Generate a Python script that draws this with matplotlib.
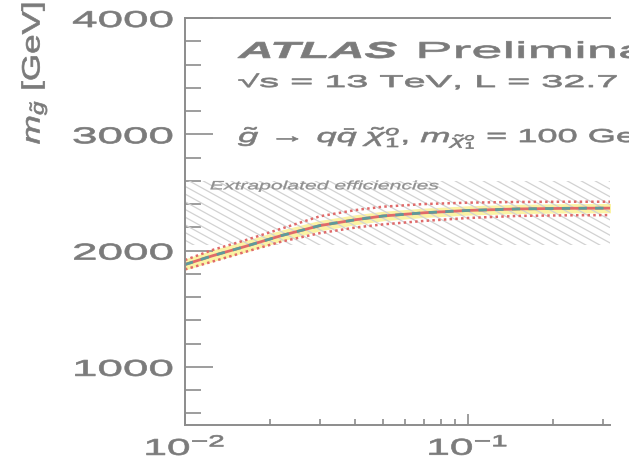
import numpy as np
import matplotlib
matplotlib.use("Agg")
import matplotlib.pyplot as plt
from matplotlib import patheffects, ticker
from matplotlib.collections import LineCollection
from matplotlib.transforms import Affine2D

# gluino limit vs branching ratio, values read per point
br_x = [0.010, 0.0125, 0.0163, 0.022, 0.030, 0.040, 0.050, 0.070, 0.100, 0.150, 0.220, 0.320]
obs_limit = [1880, 1955, 2035, 2130, 2215, 2265, 2297, 2325, 2345, 2358, 2363, 2365]
obs_up = [1918, 2005, 2088, 2190, 2295, 2348, 2377, 2400, 2412, 2418, 2420, 2420]
obs_down = [1838, 1905, 1988, 2078, 2150, 2198, 2225, 2255, 2280, 2298, 2303, 2305]
exp_limit = [1880, 1955, 2035, 2130, 2215, 2265, 2297, 2325, 2345, 2358, 2363, 2365]
exp_up = [1928, 2005, 2085, 2178, 2260, 2308, 2338, 2365, 2385, 2398, 2403, 2405]
exp_down = [1832, 1905, 1985, 2082, 2170, 2222, 2256, 2285, 2305, 2318, 2323, 2325]

extrap_x = [0.010, 0.3177]
extrap_lo = [2050, 2050]
extrap_hi = [2600, 2600]

y_ticks = [1000, 2000, 3000, 4000]
x_ticks = [0.01, 0.1]
x_ticklabels = [r"$10^{-2}$", r"$10^{-1}$"]

GRAY = "#8c8c8c"
TEXT = "#7b7b7b"

plt.rcParams["font.family"] = ["Liberation Sans", "DejaVu Sans"]
plt.rcParams["mathtext.fontset"] = "custom"
plt.rcParams["mathtext.rm"] = "Liberation Sans"
plt.rcParams["mathtext.it"] = "Liberation Sans:italic"
plt.rcParams["mathtext.bf"] = "Liberation Sans:bold"


class Widen(patheffects.AbstractPathEffect):
    """Draw text glyphs stretched along the baseline around an anchor."""

    def __init__(self, sx=2.0, anchor=0.0, stroke=0.5):
        super().__init__()
        self._sx = sx
        self._anchor = anchor
        self._stroke = stroke

    def draw_path(self, renderer, gc, tpath, affine, rgbFace=None):
        ext = tpath.get_extents()
        x0 = ext.x0 + self._anchor * ext.width
        widen = Affine2D().translate(-x0, 0).scale(self._sx, 1).translate(x0, 0)
        gc0 = renderer.new_gc()
        gc0.copy_properties(gc)
        gc0.set_linewidth(self._stroke)
        if rgbFace is not None:
            gc0.set_foreground(rgbFace)
        renderer.draw_path(gc0, tpath, widen + affine, rgbFace)
        gc0.restore()


fig = plt.figure(figsize=(6.29, 4.59), dpi=100)
ax = fig.add_axes([0.2941, 0.0741, 0.6757, 0.8867])

# extrapolated region: shallow diagonal hatching clipped to the band
band = ax.fill_between(extrap_x, extrap_lo, extrap_hi, facecolor="none", linewidth=0)
ax_w, ax_h = 425.0, 407.0
step, slope = 14.0, 0.55
run = ax_h / slope
starts = np.arange(-run, ax_w + step, step)
segs = [[(s / ax_w, 1.0), ((s + run) / ax_w, 0.0)] for s in starts]
hatch = LineCollection(segs, colors="#d2d2d2", linewidths=0.9, transform=ax.transAxes)
hatch.set_clip_path(band.get_paths()[0], band.get_transform())
ax.add_collection(hatch)

ax.fill_between(br_x, exp_down, exp_up, color="#fbf3a4", lw=0)
ax.plot(br_x, obs_up, color="#e06a6a", lw=1.8, ls=(0, (1, 1.3)))
ax.plot(br_x, obs_down, color="#e06a6a", lw=1.8, ls=(0, (1, 1.3)))
ax.plot(br_x, obs_limit, color="#e06a6a", lw=2)
ax.plot(br_x, exp_limit, color="#5e9b9b", lw=2, ls=(0, (3, 3)))

ax.set_xscale("log")
ax.set_xlim(0.01, 0.3177)
ax.set_ylim(500, 4000)
ax.set_yticks(y_ticks)
ax.yaxis.set_minor_locator(ticker.MultipleLocator(200))
ax.set_xticks(x_ticks)
ax.set_xticklabels(x_ticklabels)
ax.xaxis.set_minor_formatter(ticker.NullFormatter())

ax.tick_params(axis="y", which="major", direction="in", length=20, width=1.2,
               color=GRAY, pad=8.6, labelsize=16.5, labelcolor=TEXT)
ax.tick_params(axis="y", which="minor", direction="in", length=11.5, width=1.2, color=GRAY)
ax.tick_params(axis="x", which="major", direction="in", length=8, width=1.2,
               color=GRAY, pad=7.0, labelsize=16.5, labelcolor=TEXT)
ax.tick_params(axis="x", which="minor", direction="in", length=4, width=1.2, color=GRAY)

for lbl in ax.get_yticklabels():
    lbl.set_path_effects([Widen(2.0, 1.0)])
for lbl in ax.get_xticklabels():
    lbl.set_path_effects([Widen(1.85, 0.5)])

ax.spines["right"].set_visible(False)
for side in ["left", "bottom", "top"]:
    ax.spines[side].set_color(GRAY)
    ax.spines[side].set_linewidth(1.4)

ax.text(0.125, 0.902, "ATLAS", transform=ax.transAxes, fontsize=16.5,
        fontweight="bold", fontstyle="italic", color=TEXT, clip_on=False,
        path_effects=[Widen(2.12)])
ax.text(0.548, 0.902, "Preliminary", transform=ax.transAxes, fontsize=16.5,
        color=TEXT, clip_on=False, path_effects=[Widen(2.45)])
ax.text(0.125, 0.830, "\u221as = 13 TeV, L = 32.7 fb$^{-1}$", transform=ax.transAxes,
        fontsize=12.3, color=TEXT, clip_on=False, path_effects=[Widen(2.32)])
ax.text(0.125, 0.695,
        r"$\tilde{g}\,\rightarrow\,q\bar{q}\;\tilde{\chi}^{o}_{1}$, $m_{\tilde{\chi}^{o}_{1}}$ = 100 GeV",
        transform=ax.transAxes, fontsize=13.5, color=TEXT, clip_on=False,
        path_effects=[Widen(1.93)])
ax.text(0.059, 0.579, "Extrapolated efficiencies", transform=ax.transAxes,
        fontsize=8.7, fontstyle="italic", color="#8f8f8f",
        path_effects=[Widen(1.75, stroke=0.2)])

fig.text(0.054, 0.996, r"$m_{\tilde{g}}$ [GeV]", rotation=90, ha="center", va="top",
         fontsize=18, color=TEXT, path_effects=[Widen(1.4, 1.0)])

fig.savefig("out.png", dpi=100)
